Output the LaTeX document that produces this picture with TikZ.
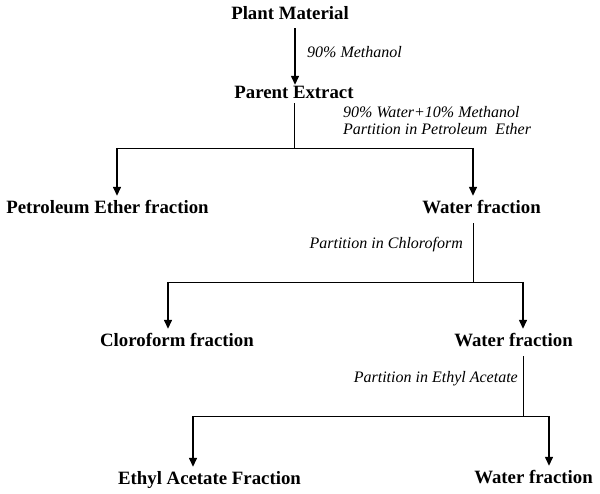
\documentclass[tikz,border=0pt]{standalone}
\usepackage{fontspec}
\setmainfont{Liberation Serif}
\usetikzlibrary{arrows.meta}
\begin{document}
\begin{tikzpicture}[x=1pt,y=-1pt,
  boldlbl/.style={font=\fontsize{18.8}{22}\selectfont\bfseries, inner xsep=0pt, inner ysep=4.5pt, text height=13pt, text depth=0pt},
  itlbl/.style={font=\fontsize{16}{17}\selectfont\itshape, inner sep=0pt, align=left},
  arr/.style={line width=1.4pt, -{Triangle[width=8pt,length=9pt]}},
  ln/.style={line width=0.8pt}]
\useasboundingbox (0,0) rectangle (600,494);
% nodes
\node[boldlbl] (pm)   at (290,13)    {Plant Material};
\node[boldlbl] (pe)   at (294,92)    {Parent Extract};
\node[boldlbl] (pef)  at (107.5,207) {Petroleum Ether fraction};
\node[boldlbl] (wf1)  at (481.5,207) {Water fraction};
\node[boldlbl] (cf)   at (177,340)   {Cloroform fraction};
\node[boldlbl] (wf2)  at (513.5,340) {Water fraction};
\node[boldlbl] (eaf)  at (209.5,478) {Ethyl Acetate Fraction};
\node[boldlbl] (wf3)  at (533.5,477) {Water fraction};
% italic labels
\node[itlbl, anchor=west] (m1) at (307,52) {90\% Methanol};
\node[itlbl, anchor=west] (p1) at (343,120.5) {90\% Water+10\% Methanol\\Partition in Petroleum\ \ Ether};
\node[itlbl, anchor=east] (p2) at (463,245) {Partition in Chloroform};
\node[itlbl, anchor=east] (p3) at (518,379) {Partition in Ethyl Acetate};
% junction coordinates
\coordinate (a1) at (295,0);
\coordinate (j1) at (294,148);
\coordinate (l1) at (117,148);
\coordinate (r1) at (473,148);
\coordinate (j2) at (473,282);
\coordinate (l2) at (168,282);
\coordinate (r2) at (523,282);
\coordinate (j3) at (523,416);
\coordinate (l3) at (193,416);
\coordinate (r3) at (549,416);
% connectors
\draw[arr, shorten <=4pt, shorten >=-4pt] (pm.south -| a1) -- (pe.north -| a1);
\draw[ln] (pe.south -| j1) -- (j1);
\draw[ln] (l1) -- (r1);
\draw[arr] (l1) -- (pef.north -| l1);
\draw[arr] (r1) -- (wf1.north -| r1);
\draw[ln] (wf1.south -| j2) ++(0,5) -- (j2);
\draw[ln] (l2) -- (r2);
\draw[arr] (l2) -- (cf.north -| l2);
\draw[arr] (r2) -- (wf2.north -| r2);
\draw[ln] (wf2.south -| j3) ++(0,5) -- (j3);
\draw[ln] (l3) -- (r3);
\draw[arr] (l3) -- (eaf.north -| l3);
\draw[arr] (r3) -- (wf3.north -| r3);
\end{tikzpicture}
\end{document}
